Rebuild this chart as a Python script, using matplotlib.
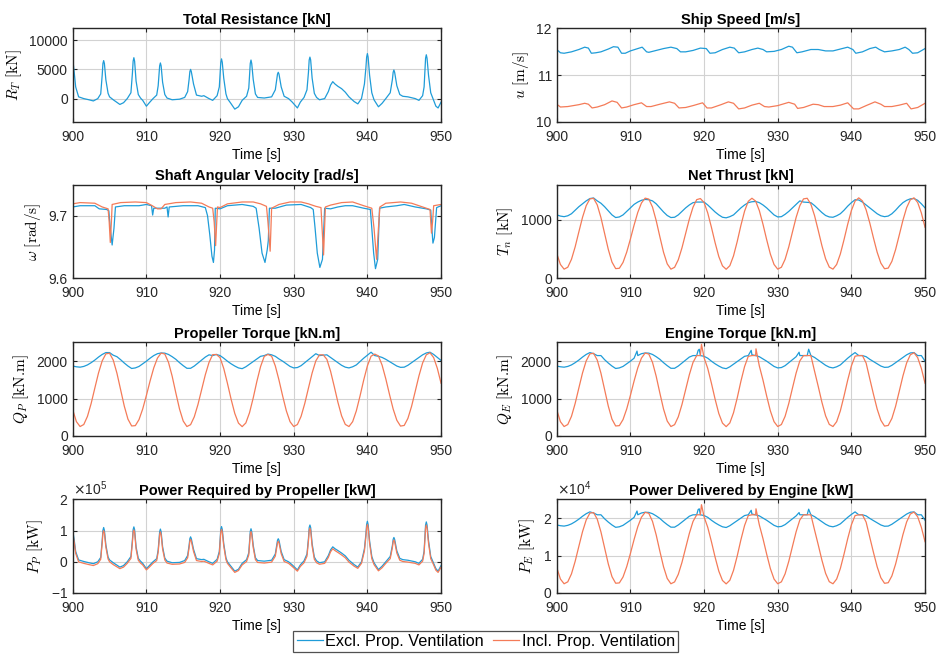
import numpy as np
import matplotlib
matplotlib.use("Agg")
import matplotlib.pyplot as plt

plt.rcParams["font.family"] = ["Liberation Sans", "DejaVu Sans"]
plt.rcParams["font.size"] = 10

BLUE = "#1f9cd8"
ORANGE = "#f47b58"
LABELS = ["Excl. Prop. Ventilation", "Incl. Prop. Ventilation"]

# half-second time grid for the smooth signals
t_grid = np.linspace(900, 950, 101)

# ---- total resistance / propeller power (peaky signals, irregular time) ----
# one line per peak so the three lists stay aligned
t_res = [900.0, 900.2, 900.4, 900.8, 901.5, 902.2, 902.8, 903.4,
         903.8, 904.0, 904.1, 904.2, 904.3, 904.5, 904.8, 905.0, 905.5, 906.4, 906.9, 907.4,
         907.9, 908.1, 908.2, 908.3, 908.4, 908.6, 908.9, 909.2, 909.5, 910.0, 910.4, 910.9, 911.4,
         911.6, 911.8, 911.9, 912.0, 912.2, 912.5, 912.8, 913.5, 914.5, 915.2,
         915.6, 915.8, 915.9, 916.0, 916.1, 916.4, 916.8, 917.5, 917.8, 918.5, 919.0, 919.6,
         919.9, 920.0, 920.1, 920.2, 920.3, 920.5, 920.8, 921.0, 921.4, 922.0, 922.5, 923.0, 923.6,
         923.9, 924.0, 924.1, 924.2, 924.3, 924.5, 924.8, 925.1, 926.0, 927.0,
         927.5, 927.7, 927.8, 927.9, 928.0, 928.3, 928.7, 929.3, 929.8, 930.5, 930.9, 931.4,
         931.8, 932.0, 932.1, 932.2, 932.3, 932.5, 932.8, 933.1, 933.5, 934.2,
         934.7, 935.0, 935.3, 935.6, 936.0, 936.5, 937.0, 937.5, 938.2, 938.7, 939.2,
         939.6, 939.8, 939.9, 940.0, 940.1, 940.3, 940.6, 940.9, 941.5, 942.0, 942.5, 943.1,
         943.4, 943.5, 943.6, 943.7, 944.0, 944.4, 944.8, 945.5, 946.5, 947.0, 947.5,
         947.7, 947.8, 947.9, 948.0, 948.1, 948.3, 948.6, 948.9, 949.3, 949.6, 950.0]
r_total = [6800, 4500, 2000, 300, 0, -200, -400, 0,
           800, 4000, 6000, 6500, 6000, 3200, 900, 300, -200, -1000, -700, 0,
           1000, 4300, 6400, 7000, 6400, 3000, 700, 100, -300, -1300, -700, 0, 600,
           2200, 5600, 6100, 5600, 2800, 700, 100, -200, -100, 200,
           1200, 3300, 4600, 5000, 4600, 2500, 600, 400, 500, 0, -300, 500,
           2000, 4200, 6200, 6800, 6200, 3500, 800, 0, -700, -1800, -1400, -300, 400,
           1800, 4000, 6000, 6600, 6000, 3300, 800, 200, 100, 300,
           1500, 3300, 4200, 4500, 4200, 2000, 400, 0, -600, -1600, -600, 200,
           1500, 4500, 6600, 7100, 6600, 3500, 900, 200, -200, 0,
           1200, 2300, 2900, 2500, 2100, 1700, 1100, 300, -500, -900, 0,
           2500, 5300, 7100, 7700, 7100, 4000, 1000, -200, -1400, -800, 0, 1000,
           3300, 4500, 4900, 4500, 2200, 700, 400, 300, 0, -300, 500,
           2000, 4500, 6900, 7500, 6900, 4000, 1000, 0, -1300, -1600, -600]
p_prop_excl = [100000, 70000, 33000, 6000, 1000, -3000, -6000, 0,
               14000, 68000, 101000, 110000, 101000, 54000, 15000, 6000, -3000, -17000, -12000, 0,
               17000, 69000, 103000, 112000, 103000, 48000, 11000, 2000, -5000, -22000, -12000, 0, 10000,
               38000, 96000, 105000, 96000, 48000, 12000, 2000, -3000, -2000, 4000,
               20000, 53000, 74000, 80000, 74000, 40000, 10000, 7000, 8000, 0, -5000, 8000,
               33000, 70000, 104000, 113000, 104000, 58000, 13000, 0, -12000, -30000, -24000, -5000, 7000,
               29000, 64000, 97000, 106000, 97000, 53000, 13000, 4000, 2000, 5000,
               25000, 54000, 69000, 74000, 69000, 33000, 7000, 0, -10000, -26000, -10000, 3000,
               25000, 75000, 110000, 118000, 110000, 58000, 15000, 3000, -3000, 0,
               20000, 38000, 48000, 42000, 36000, 28000, 19000, 5000, -9000, -17000, 0,
               42000, 89000, 120000, 130000, 120000, 67000, 17000, -3000, -25000, -14000, 0, 17000,
               53000, 72000, 78000, 72000, 35000, 11000, 7000, 5000, 0, -5000, 8000,
               34000, 77000, 118000, 128000, 118000, 68000, 17000, 0, -22000, -30000, -12000]
p_prop_incl = [92000, 63000, 27000, 0, -5000, -9000, -12000, -6000,
               8000, 60000, 92000, 100000, 92000, 47000, 9000, 0, -9000, -22000, -17000, -5000,
               11000, 61000, 94000, 102000, 94000, 41000, 5000, -4000, -10000, -26000, -17000, -5000, 4000,
               31000, 87000, 96000, 87000, 41000, 6000, -4000, -8000, -7000, -2000,
               13000, 46000, 66000, 72000, 66000, 33000, 4000, 1000, 2000, -5000, -10000, 2000,
               26000, 62000, 95000, 104000, 95000, 51000, 7000, -5000, -17000, -34000, -28000, -10000, 1000,
               22000, 57000, 88000, 97000, 88000, 46000, 7000, -2000, -4000, -1000,
               18000, 47000, 61000, 66000, 61000, 26000, 1000, -5000, -15000, -30000, -15000, -3000,
               18000, 67000, 100000, 108000, 100000, 50000, 8000, -3000, -8000, -5000,
               14000, 32000, 42000, 36000, 30000, 22000, 13000, -1000, -14000, -21000, -5000,
               35000, 81000, 110000, 120000, 110000, 59000, 10000, -9000, -29000, -19000, -5000, 10000,
               46000, 64000, 70000, 64000, 28000, 5000, 1000, -1000, -5000, -10000, 2000,
               27000, 69000, 108000, 118000, 108000, 60000, 10000, -5000, -27000, -34000, -17000]

# ---- ship speed ----
t_u_excl = [900.0, 900.5, 901.0, 902.0, 903.0, 903.8, 904.3, 904.7, 905.3, 906.0,
            907.0, 907.7, 908.3, 908.8, 909.3, 910.0, 911.0, 911.6, 912.2, 912.5,
            913.5, 914.5, 915.5, 916.3, 916.8, 917.5, 918.5, 919.5, 920.3, 920.8,
            921.5, 922.5, 923.5, 924.1, 924.7, 925.5, 926.5, 927.3, 928.0, 928.5,
            929.5, 930.5, 931.5, 932.0, 932.6, 933.3, 934.5, 935.5, 936.5, 937.5,
            938.5, 939.5, 940.2, 940.6, 941.5, 942.5, 943.3, 943.8, 944.5, 945.5,
            946.5, 947.3, 947.8, 948.3, 949.0, 950.0]
u_excl = [11.55, 11.48, 11.47, 11.50, 11.55, 11.60, 11.58, 11.47, 11.48, 11.50,
          11.56, 11.61, 11.60, 11.47, 11.47, 11.52, 11.57, 11.60, 11.50, 11.49,
          11.53, 11.57, 11.60, 11.57, 11.50, 11.50, 11.53, 11.58, 11.57, 11.47,
          11.48, 11.55, 11.60, 11.58, 11.48, 11.50, 11.55, 11.58, 11.55, 11.50,
          11.51, 11.55, 11.62, 11.60, 11.48, 11.50, 11.55, 11.55, 11.52, 11.52,
          11.56, 11.60, 11.55, 11.47, 11.50, 11.57, 11.60, 11.55, 11.50, 11.52,
          11.55, 11.60, 11.55, 11.47, 11.48, 11.57]
t_u_incl = [900.0, 900.5, 901.5, 903.0, 903.8, 904.3, 904.8, 905.5, 906.5, 907.5,
            908.2, 908.8, 909.5, 910.5, 911.5, 912.2, 912.8, 914.0, 915.3, 916.0,
            916.6, 917.5, 918.5, 919.8, 920.4, 921.0, 922.3, 923.3, 924.0, 924.7,
            925.5, 926.5, 927.5, 928.2, 928.8, 930.0, 931.5, 932.3, 932.7, 933.5,
            934.8, 935.5, 936.3, 937.5, 938.5, 939.5, 940.3, 941.0, 942.0, 943.2,
            944.0, 944.5, 945.5, 946.5, 947.5, 948.1, 949.0, 950.0]
u_incl = [10.38, 10.32, 10.33, 10.37, 10.40, 10.38, 10.30, 10.32, 10.37, 10.45,
          10.42, 10.30, 10.32, 10.37, 10.41, 10.33, 10.33, 10.38, 10.43, 10.40,
          10.30, 10.31, 10.35, 10.41, 10.30, 10.30, 10.37, 10.43, 10.40, 10.28,
          10.30, 10.36, 10.40, 10.33, 10.32, 10.35, 10.42, 10.38, 10.29, 10.31,
          10.38, 10.37, 10.33, 10.33, 10.36, 10.41, 10.28, 10.28, 10.35, 10.43,
          10.38, 10.33, 10.33, 10.36, 10.40, 10.28, 10.31, 10.40]

# ---- shaft angular velocity ----
t_w_excl = [900.0, 901.0, 903.0, 903.6, 904.6, 904.9, 905.1, 905.35, 905.6, 905.8,
            907.0, 909.0, 910.0, 910.7, 910.85, 911.0, 912.5, 912.8, 912.95, 913.1,
            915.0, 917.0, 918.0, 918.3, 918.6, 918.9, 919.1, 919.25, 919.35, 920.0,
            921.0, 923.0, 924.5, 924.9, 925.3, 925.7, 926.1, 926.4, 926.55, 926.7,
            927.5, 929.0, 931.0, 932.3, 932.65, 932.9, 933.2, 933.55, 933.9, 934.2,
            935.0, 936.0, 937.0, 938.0, 939.5, 940.4, 940.6, 940.85, 941.1, 941.4,
            941.65, 942.5, 944.0, 945.0, 946.5, 948.0, 948.6, 948.75, 948.9, 949.1,
            949.4, 950.0]
w_excl = [9.714, 9.716, 9.716, 9.711, 9.710, 9.708, 9.680, 9.653, 9.680, 9.714,
          9.716, 9.716, 9.718, 9.716, 9.701, 9.712, 9.712, 9.714, 9.698, 9.714,
          9.716, 9.716, 9.713, 9.700, 9.670, 9.635, 9.625, 9.645, 9.712, 9.711,
          9.716, 9.718, 9.715, 9.712, 9.680, 9.640, 9.625, 9.645, 9.660, 9.712,
          9.712, 9.717, 9.718, 9.713, 9.710, 9.680, 9.640, 9.617, 9.630, 9.712,
          9.711, 9.714, 9.716, 9.716, 9.712, 9.710, 9.680, 9.640, 9.615, 9.630,
          9.712, 9.714, 9.716, 9.718, 9.714, 9.711, 9.709, 9.680, 9.656, 9.665,
          9.713, 9.716]
t_w_incl = [900.0, 901.0, 903.0, 904.0, 904.8, 904.95, 905.1, 905.25, 905.35, 906.5,
            908.5, 910.0, 910.8, 911.5, 912.0, 912.5, 914.0, 916.0, 917.5, 918.5,
            919.0, 919.2, 919.4, 919.55, 919.65, 920.0, 921.0, 923.0, 924.5, 925.5,
            926.3, 926.5, 926.8, 927.0, 928.0, 929.5, 931.0, 932.0, 933.0, 933.7,
            933.85, 934.05, 934.3, 935.0, 936.5, 938.0, 939.5, 940.6, 940.9, 941.25,
            941.5, 941.7, 942.5, 944.5, 946.0, 947.5, 948.5, 948.7, 948.85, 949.0,
            950.0]
w_incl = [9.719, 9.721, 9.720, 9.714, 9.711, 9.690, 9.657, 9.690, 9.718, 9.721,
          9.722, 9.721, 9.716, 9.711, 9.711, 9.718, 9.721, 9.722, 9.720, 9.714,
          9.712, 9.690, 9.652, 9.690, 9.714, 9.713, 9.719, 9.722, 9.722, 9.719,
          9.715, 9.690, 9.643, 9.712, 9.718, 9.722, 9.722, 9.719, 9.715, 9.713,
          9.680, 9.637, 9.714, 9.717, 9.721, 9.722, 9.716, 9.712, 9.680, 9.630,
          9.680, 9.714, 9.720, 9.722, 9.720, 9.714, 9.710, 9.672, 9.690, 9.716,
          9.718]

# ---- net thrust (half-second grid) ----
thrust_excl = [1080, 1060, 1050, 1065, 1100, 1160, 1220, 1270, 1320, 1360,
               1370, 1320, 1280, 1220, 1150, 1080, 1035, 1045, 1080, 1140,
               1200, 1260, 1300, 1330, 1345, 1340, 1320, 1270, 1200, 1130,
               1070, 1035, 1040, 1080, 1140, 1200, 1250, 1290, 1300, 1300,
               1300, 1250, 1190, 1130, 1080, 1040, 1030, 1050, 1080, 1140,
               1200, 1250, 1290, 1305, 1310, 1290, 1250, 1200, 1140, 1080,
               1045, 1050, 1090, 1140, 1200, 1260, 1320, 1300, 1295, 1290,
               1240, 1180, 1120, 1070, 1045, 1040, 1065, 1100, 1160, 1230,
               1290, 1340, 1335, 1300, 1250, 1200, 1150, 1100, 1065, 1050,
               1060, 1100, 1160, 1230, 1290, 1330, 1355, 1360, 1330, 1270,
               1200]
thrust_incl = [420, 232, 152, 185, 320, 533, 788, 1038, 1238, 1354,
               1364, 1251, 1035, 762, 489, 273, 161, 167, 267, 443,
               667, 905, 1122, 1284, 1367, 1351, 1214, 984, 706, 440,
               242, 152, 183, 312, 516, 762, 1008, 1212, 1341, 1360,
               1292, 1113, 868, 604, 368, 208, 150, 211, 380, 624,
               900, 1144, 1313, 1365, 1316, 1155, 920, 656, 411, 232,
               152, 185, 320, 533, 788, 1038, 1238, 1354, 1365, 1263,
               1068, 815, 553, 329, 187, 152, 232, 411, 656, 920,
               1155, 1316, 1372, 1320, 1167, 941, 684, 441, 255, 159,
               170, 286, 486, 736, 990, 1204, 1339, 1372, 1292, 1113,
               868]

# ---- propeller torque ----
qp_excl = [1870, 1850, 1840, 1860, 1900, 1960, 2030, 2110, 2180, 2230,
           2230, 2160, 2120, 2040, 1950, 1870, 1805, 1820, 1860, 1930,
           2000, 2080, 2150, 2200, 2220, 2215, 2180, 2120, 2050, 1960,
           1880, 1810, 1810, 1870, 1950, 2030, 2110, 2170, 2150, 2180,
           2150, 2080, 2000, 1930, 1870, 1820, 1800, 1850, 1920, 1990,
           2060, 2130, 2150, 2190, 2170, 2130, 2060, 2000, 1930, 1860,
           1820, 1830, 1880, 1960, 2040, 2120, 2200, 2150, 2160, 2170,
           2100, 2030, 1960, 1890, 1840, 1820, 1850, 1900, 1990, 2080,
           2160, 2240, 2150, 2130, 2100, 2050, 1990, 1930, 1870, 1835,
           1840, 1890, 1960, 2030, 2100, 2170, 2220, 2240, 2180, 2100,
           2020]
qp_incl = [700, 383, 253, 307, 525, 869, 1281, 1685, 2008, 2196,
           2212, 2029, 1680, 1239, 798, 449, 268, 277, 439, 723,
           1085, 1470, 1821, 2083, 2217, 2191, 1969, 1598, 1148, 719,
           399, 253, 303, 512, 841, 1239, 1637, 1966, 2175, 2180,
           2095, 1806, 1410, 984, 602, 344, 250, 349, 622, 1016,
           1462, 1856, 2129, 2180, 2134, 1874, 1494, 1068, 672, 383,
           253, 307, 525, 869, 1281, 1685, 2008, 2170, 2170, 2049,
           1733, 1325, 901, 539, 310, 253, 383, 672, 1068, 1494,
           1874, 2134, 2190, 2141, 1893, 1528, 1113, 720, 420, 265,
           282, 470, 793, 1197, 1607, 1953, 2171, 2225, 2095, 1806,
           1410]

# ---- engine torque ----
qe_excl = [1870, 1850, 1840, 1860, 1900, 1960, 2030, 2110, 2180, 2230,
           2200, 2150, 2150, 2040, 1950, 1870, 1805, 1820, 1860, 1930,
           2000, 2080, 2150, 2200, 2220, 2215, 2180, 2120, 2050, 1960,
           1880, 1810, 1810, 1870, 1950, 2030, 2110, 2150, 2150, 2150,
           2130, 2080, 2000, 1930, 1870, 1820, 1800, 1850, 1920, 1990,
           2060, 2130, 2150, 2170, 2150, 2120, 2060, 2000, 1930, 1860,
           1820, 1830, 1880, 1960, 2040, 2120, 2150, 2150, 2150, 2150,
           2100, 2030, 1960, 1890, 1840, 1820, 1850, 1900, 1990, 2080,
           2160, 2230, 2150, 2150, 2120, 2050, 1990, 1930, 1870, 1835,
           1840, 1890, 1960, 2030, 2100, 2170, 2220, 2230, 2150, 2150,
           2000]
qe_incl = [700, 383, 253, 307, 525, 869, 1281, 1685, 2008, 2196,
           2212, 2029, 1680, 1239, 798, 449, 268, 277, 439, 723,
           1085, 1470, 1821, 2083, 2217, 2191, 1969, 1598, 1148, 719,
           399, 253, 303, 512, 841, 1239, 1637, 1966, 2150, 2150,
           2095, 1806, 1410, 984, 602, 344, 250, 349, 622, 1016,
           1462, 1856, 2129, 2150, 2150, 1874, 1494, 1068, 672, 383,
           253, 307, 525, 869, 1281, 1685, 2008, 2150, 2150, 2150,
           1733, 1325, 901, 539, 310, 253, 383, 672, 1068, 1494,
           1874, 2134, 2150, 2150, 1950, 1528, 1113, 720, 420, 265,
           282, 470, 793, 1197, 1607, 1953, 2171, 2225, 2095, 1806,
           1410]
qe_spike_t_excl = [910.9, 919.2, 919.35, 926.4, 932.9, 934.2]
qe_spike_excl = [2270, 2290, 2320, 2290, 2240, 2320]
qe_spike_t_incl = [919.65, 927.05]
qe_spike_incl = [2450, 2330]

# ---- engine power ----
pe_excl = [18180, 17980, 17880, 18080, 18470, 19050, 19730, 20510, 21190, 21680,
           21380, 20900, 20900, 19830, 18950, 18180, 17550, 17690, 18080, 18760,
           19440, 20220, 20900, 21380, 21580, 21530, 21190, 20610, 19930, 19050,
           18270, 17590, 17590, 18180, 18950, 19730, 20510, 20900, 20900, 20900,
           20700, 20220, 19440, 18760, 18180, 17690, 17500, 17980, 18660, 19340,
           20020, 20700, 20900, 21090, 20900, 20610, 20020, 19440, 18760, 18080,
           17690, 17790, 18270, 19050, 19830, 20610, 20900, 20900, 20900, 20900,
           20410, 19730, 19050, 18370, 17880, 17690, 17980, 18470, 19340, 20220,
           21000, 21680, 20900, 20900, 20610, 19930, 19340, 18760, 18180, 17840,
           17880, 18370, 19050, 19730, 20410, 21090, 21580, 21680, 20900, 20900,
           19440]
pe_incl = [6800, 3720, 2460, 2980, 5100, 8450, 12450, 16380, 19520, 21350,
           21500, 19720, 16330, 12040, 7760, 4360, 2600, 2690, 4270, 7030,
           10550, 14290, 17700, 20250, 21550, 21300, 19140, 15530, 11160, 6990,
           3880, 2460, 2950, 4980, 8170, 12040, 15910, 19110, 20900, 20900,
           20360, 17550, 13710, 9560, 5850, 3340, 2430, 3390, 6050, 9880,
           14210, 18040, 20690, 20900, 20900, 18220, 14520, 10380, 6530, 3720,
           2460, 2980, 5100, 8450, 12450, 16380, 19520, 20900, 20900, 20900,
           16840, 12880, 8760, 5240, 3010, 2460, 3720, 6530, 10380, 14520,
           18220, 20690, 20900, 20900, 18950, 14850, 10820, 7000, 4080, 2580,
           2740, 4570, 7710, 11630, 15620, 18980, 21100, 21630, 20360, 17550,
           13710]
pe_spike_t_excl = [910.9, 919.2, 919.35, 926.4, 932.9, 934.2]
pe_spike_excl = [21900, 22300, 22500, 22100, 21500, 22400]
pe_spike_t_incl = [919.65, 927.05]
pe_spike_incl = [23600, 22500]


def add_spikes(t, v, st, sv):
    tt = np.concatenate([np.asarray(t, float), np.asarray(st, float)])
    vv = np.concatenate([np.asarray(v, float), np.asarray(sv, float)])
    order = np.argsort(tt, kind="stable")
    return tt[order], vv[order]


def style(ax, title, ylabel, ylim, yticks):
    ax.set_title(title, fontweight="bold", fontsize=10.5, pad=3)
    ax.set_ylabel(ylabel, fontsize=11, math_fontfamily="cm")
    ax.set_xlabel("Time [s]", fontsize=10, labelpad=3)
    ax.set_xlim(900, 950)
    ax.set_xticks(np.arange(900, 951, 10))
    ax.set_ylim(*ylim)
    ax.set_yticks(yticks)
    ax.grid(True, color="#d2d2d2", linewidth=0.8)
    ax.set_axisbelow(True)
    ax.tick_params(direction="in", length=3, width=0.8, top=True, right=True,
                   labelsize=10, colors="#262626")
    ax.tick_params(axis="x", pad=5.5)
    ax.tick_params(axis="y", pad=3.5)
    for s in ax.spines.values():
        s.set_color("#262626")
        s.set_linewidth(1.0)


fig = plt.figure(figsize=(9.36, 6.59), dpi=100)
lefts = [0.0777, 0.5948]
bottoms = [0.8149, 0.5781, 0.3384, 0.1002]
w, h = 0.3935, 0.1419
axs = [[fig.add_axes([lefts[c], bottoms[r], w, h]) for c in range(2)] for r in range(4)]
lw = 0.9

ax = axs[0][0]
ax.plot(t_res, r_total, color=BLUE, lw=lw)
style(ax, "Total Resistance [kN]", r"$R_T\ [\mathrm{kN}]$", (-4000, 12000), [0, 5000, 10000])

ax = axs[0][1]
l1, = ax.plot(t_u_excl, u_excl, color=BLUE, lw=lw)
l2, = ax.plot(t_u_incl, u_incl, color=ORANGE, lw=lw)
style(ax, "Ship Speed [m/s]", r"$u\ [\mathrm{m/s}]$", (10, 12), [10, 11, 12])

ax = axs[1][0]
ax.plot(t_w_excl, w_excl, color=BLUE, lw=lw)
ax.plot(t_w_incl, w_incl, color=ORANGE, lw=lw)
style(ax, "Shaft Angular Velocity [rad/s]", r"$\omega\ [\mathrm{rad/s}]$", (9.6, 9.75), [9.6, 9.7])

ax = axs[1][1]
ax.plot(t_grid, thrust_excl, color=BLUE, lw=lw)
ax.plot(t_grid, thrust_incl, color=ORANGE, lw=lw)
style(ax, "Net Thrust [kN]", r"$T_n\ [\mathrm{kN}]$", (0, 1600), [0, 1000])

ax = axs[2][0]
ax.plot(t_grid, qp_excl, color=BLUE, lw=lw)
ax.plot(t_grid, qp_incl, color=ORANGE, lw=lw)
style(ax, "Propeller Torque [kN.m]", r"$Q_P\ [\mathrm{kN.\!m}]$", (0, 2500), [0, 1000, 2000])

ax = axs[2][1]
ax.plot(*add_spikes(t_grid, qe_excl, qe_spike_t_excl, qe_spike_excl), color=BLUE, lw=lw)
ax.plot(*add_spikes(t_grid, qe_incl, qe_spike_t_incl, qe_spike_incl), color=ORANGE, lw=lw)
style(ax, "Engine Torque [kN.m]", r"$Q_E\ [\mathrm{kN.\!m}]$", (0, 2500), [0, 1000, 2000])

ax = axs[3][0]
ax.plot(t_res, p_prop_excl, color=BLUE, lw=lw)
ax.plot(t_res, p_prop_incl, color=ORANGE, lw=lw)
style(ax, "Power Required by Propeller [kW]", r"$P_P\ [\mathrm{kW}]$", (-1e5, 2e5), [-1e5, 0, 1e5, 2e5])
ax.ticklabel_format(axis="y", style="sci", scilimits=(0, 0), useMathText=True)

ax = axs[3][1]
ax.plot(*add_spikes(t_grid, pe_excl, pe_spike_t_excl, pe_spike_excl), color=BLUE, lw=lw)
ax.plot(*add_spikes(t_grid, pe_incl, pe_spike_t_incl, pe_spike_incl), color=ORANGE, lw=lw)
style(ax, "Power Delivered by Engine [kW]", r"$P_E\ [\mathrm{kW}]$", (0, 2.5e4), [0, 1e4, 2e4])
ax.ticklabel_format(axis="y", style="sci", scilimits=(0, 0), useMathText=True)

for r in range(4):
    for c in range(2):
        axs[r][c].yaxis.get_offset_text().set_fontsize(10)

leg = fig.legend([l1, l2], LABELS, loc="center", bbox_to_anchor=(0.519, 0.0266),
                 ncol=2, fontsize=11.7, frameon=True, fancybox=False,
                 handlelength=1.6, handletextpad=0.15, columnspacing=0.6,
                 borderpad=0.2, edgecolor="#262626")
leg.get_frame().set_linewidth(0.9)

fig.savefig("out.png", dpi=100)
